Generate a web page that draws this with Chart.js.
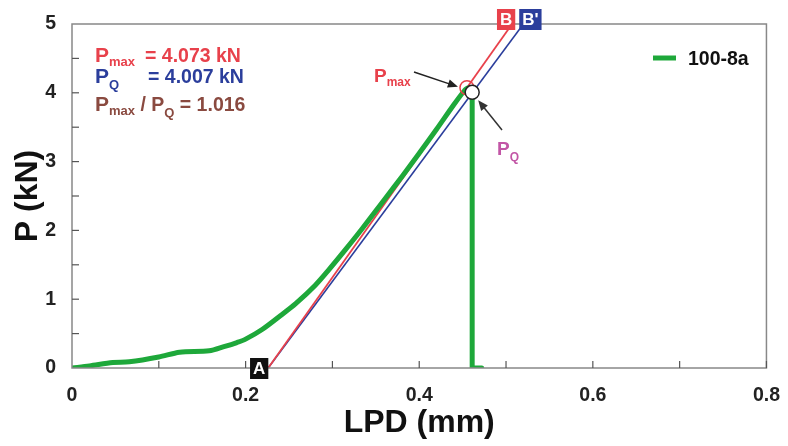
<!DOCTYPE html>
<html>
<head>
<meta charset="utf-8">
<script src="https://cdn.jsdelivr.net/npm/chart.js@4.4.1/dist/chart.umd.min.js"></script>
<style>
  html, body { margin: 0; padding: 0; background: #fff; }
  #wrap { width: 788px; height: 446px; }
</style>
</head>
<body>
<div id="wrap"><canvas id="lpdChart"></canvas></div>
<script>
// test curve 100-8a, LPD (mm) vs P (kN): loading part, then the sudden drop
const curveX = [0, 0.02, 0.047, 0.066, 0.1, 0.124, 0.158, 0.175, 0.19, 0.2, 0.219, 0.24, 0.258, 0.28, 0.296, 0.315, 0.334, 0.36, 0.38, 0.40, 0.42, 0.44, 0.452, 0.456, 0.461];
const curveY = [0, 0.03, 0.08, 0.09, 0.16, 0.23, 0.25, 0.31, 0.37, 0.42, 0.56, 0.76, 0.94, 1.2, 1.43, 1.72, 2.02, 2.45, 2.78, 3.12, 3.47, 3.83, 4.03, 4.07, 4.0];
const dropX = [0.461, 0.461, 0.472];
const dropY = [4.0, 0, 0];

// initial tangent A-B and 95% secant A-B'
const tangentX = [0.226, 0.507];
const tangentY = [0, 5];
const secantX = [0.226, 0.52];
const secantY = [0, 5];

const pmax = { x: 0.455, y: 4.073 };
const pq = { x: 0.461, y: 4.007 };

const xTicks = [0, 0.2, 0.4, 0.6, 0.8];
const yTicks = [0, 1, 2, 3, 4, 5];

const GREEN = '#1ea83a';
const RED = '#e8414b';
const BLUE = '#2b3e9c';
const BROWN = '#8a4a40';
const PINK = '#c256a6';

function toPoints(xs, ys) {
    return xs.map((x, i) => ({ x: x, y: ys[i] }));
}

function subText(ctx, x, y, parts) {
    // parts: [text, size, dy]
    let cx = x;
    parts.forEach(p => {
        ctx.font = 'bold ' + p[1] + 'px "Liberation Sans", Arial, sans-serif';
        ctx.fillText(p[0], cx, y + p[2]);
        cx += ctx.measureText(p[0]).width;
    });
}

function arrow(ctx, x1, y1, x2, y2, color) {
    const a = Math.atan2(y2 - y1, x2 - x1);
    ctx.strokeStyle = color;
    ctx.fillStyle = color;
    ctx.lineWidth = 1.5;
    ctx.beginPath();
    ctx.moveTo(x1, y1);
    ctx.lineTo(x2 - 6 * Math.cos(a), y2 - 6 * Math.sin(a));
    ctx.stroke();
    ctx.beginPath();
    ctx.moveTo(x2, y2);
    ctx.lineTo(x2 - 11 * Math.cos(a - 0.4), y2 - 11 * Math.sin(a - 0.4));
    ctx.lineTo(x2 - 11 * Math.cos(a + 0.4), y2 - 11 * Math.sin(a + 0.4));
    ctx.closePath();
    ctx.fill();
}

function boxLabel(ctx, cx, cy, text, bg) {
    ctx.font = 'bold 17px "Liberation Sans", Arial, sans-serif';
    const w = Math.max(17, ctx.measureText(text).width + 6);
    ctx.fillStyle = bg;
    ctx.fillRect(cx - w / 2, cy - 10, w, 21);
    ctx.fillStyle = '#fff';
    ctx.textAlign = 'center';
    ctx.textBaseline = 'middle';
    ctx.fillText(text, cx, cy + 1);
    ctx.textAlign = 'left';
    ctx.textBaseline = 'alphabetic';
}

const decorPlugin = {
    id: 'decor',
    afterDatasetsDraw(chart) {
        const ctx = chart.ctx;
        const a = chart.chartArea;
        const xs = chart.scales.x;
        const ys = chart.scales.y;
        ctx.save();

        // frame
        ctx.strokeStyle = '#888';
        ctx.lineWidth = 1.5;
        ctx.strokeRect(a.left, a.top, a.right - a.left, a.bottom - a.top);

        // inward ticks
        ctx.strokeStyle = '#555';
        ctx.lineWidth = 1.2;
        for (let v = 0.1; v < 0.8; v += 0.1) {
            const px = xs.getPixelForValue(v);
            ctx.beginPath();
            ctx.moveTo(px, a.bottom);
            ctx.lineTo(px, a.bottom - 7);
            ctx.stroke();
        }
        for (let v = 0.5; v < 5; v += 0.5) {
            const py = ys.getPixelForValue(v);
            ctx.beginPath();
            ctx.moveTo(a.left, py);
            ctx.lineTo(a.left + 7, py);
            ctx.stroke();
        }

        // A, B, B' markers
        boxLabel(ctx, xs.getPixelForValue(tangentX[0]) - 9, a.bottom, 'A', '#111');
        boxLabel(ctx, xs.getPixelForValue(tangentX[1]) - 6, a.top - 5, 'B', RED);
        boxLabel(ctx, xs.getPixelForValue(secantX[1]) + 7, a.top - 5, "B'", BLUE);

        // values box
        ctx.fillStyle = RED;
        subText(ctx, 95, 62, [['P', 21, 0], ['max', 13, 4]]);
        subText(ctx, 145, 62, [['= 4.073 kN', 19.5, 0]]);
        ctx.fillStyle = BLUE;
        subText(ctx, 95, 83, [['P', 21, 0], ['Q', 13, 6]]);
        subText(ctx, 148, 83, [['= 4.007 kN', 19.5, 0]]);
        ctx.fillStyle = BROWN;
        subText(ctx, 95, 111, [['P', 21, 0], ['max', 13, 4], [' / P', 19.5, 0], ['Q', 13, 6], [' = 1.016', 19.5, 0]]);

        // Pmax / PQ callouts
        ctx.fillStyle = RED;
        subText(ctx, 374, 82, [['P', 19, 0], ['max', 12, 4]]);
        arrow(ctx, 414, 72, xs.getPixelForValue(pmax.x) - 9, ys.getPixelForValue(pmax.y) - 1, '#222');
        ctx.fillStyle = PINK;
        subText(ctx, 497, 155, [['P', 19, 0], ['Q', 12, 6]]);
        arrow(ctx, 502, 130, xs.getPixelForValue(pq.x) + 6, ys.getPixelForValue(pq.y) + 8, '#333');

        // legend
        ctx.strokeStyle = GREEN;
        ctx.lineWidth = 5;
        ctx.beginPath();
        ctx.moveTo(653, 58);
        ctx.lineTo(676, 58);
        ctx.stroke();
        ctx.fillStyle = '#111';
        subText(ctx, 688, 65, [['100-8a', 19.5, 0]]);

        ctx.restore();
    }
};

const ctx = document.getElementById('lpdChart').getContext('2d');
new Chart(ctx, {
    type: 'scatter',
    data: {
        datasets: [
            {
                label: 'secant',
                data: toPoints(secantX, secantY),
                showLine: true,
                borderColor: BLUE,
                borderWidth: 1.6,
                pointRadius: 0,
                order: 5
            },
            {
                label: 'tangent',
                data: toPoints(tangentX, tangentY),
                showLine: true,
                borderColor: RED,
                borderWidth: 1.8,
                pointRadius: 0,
                order: 4
            },
            {
                label: '100-8a',
                data: toPoints(curveX, curveY),
                showLine: true,
                borderColor: GREEN,
                borderWidth: 5,
                borderCapStyle: 'round',
                borderJoinStyle: 'round',
                pointRadius: 0,
                tension: 0.3,
                order: 3
            },
            {
                label: '100-8a drop',
                data: toPoints(dropX, dropY),
                showLine: true,
                borderColor: GREEN,
                borderWidth: 5,
                borderCapStyle: 'round',
                borderJoinStyle: 'round',
                pointRadius: 0,
                tension: 0,
                order: 2
            },
            {
                label: 'Pmax',
                data: [pmax],
                pointRadius: 7,
                pointBorderWidth: 1.5,
                pointBorderColor: RED,
                pointBackgroundColor: 'rgba(255,255,255,0)',
                order: 1
            },
            {
                label: 'PQ',
                data: [pq],
                pointRadius: 7,
                pointBorderWidth: 1.5,
                pointBorderColor: '#222',
                pointBackgroundColor: '#fff',
                order: 0
            }
        ]
    },
    options: {
        responsive: true,
        maintainAspectRatio: false,
        animation: false,
        layout: { padding: { top: 24, right: 18, left: 0, bottom: 0 } },
        plugins: {
            legend: { display: false },
            tooltip: { enabled: false }
        },
        scales: {
            x: {
                type: 'linear',
                min: 0,
                max: 0.8,
                afterBuildTicks: s => { s.ticks = xTicks.map(v => ({ value: v })); },
                afterFit: s => { s.height = 78; },
                grid: { display: false },
                border: { display: false },
                ticks: {
                    color: '#222',
                    padding: 8,
                    maxRotation: 0,
                    font: { family: '"Liberation Sans", Arial', size: 19.5, weight: 'bold' },
                    callback: v => String(Math.round(v * 10) / 10)
                },
                title: {
                    display: true,
                    text: 'LPD (mm)',
                    color: '#111',
                    padding: { top: 0 },
                    font: { family: '"Liberation Sans", Arial', size: 32, weight: 'bold' }
                }
            },
            y: {
                type: 'linear',
                min: 0,
                max: 5,
                afterBuildTicks: s => { s.ticks = yTicks.map(v => ({ value: v })); },
                afterFit: s => { s.width = 72; },
                grid: { display: false },
                border: { display: false },
                ticks: {
                    color: '#222',
                    padding: 8,
                    font: { family: '"Liberation Sans", Arial', size: 19.5, weight: 'bold' }
                },
                title: {
                    display: true,
                    text: 'P (kN)',
                    color: '#111',
                    padding: { top: 9, bottom: 0 },
                    font: { family: '"Liberation Sans", Arial', size: 32, weight: 'bold' }
                }
            }
        }
    },
    plugins: [decorPlugin]
});
</script>
</body>
</html>
